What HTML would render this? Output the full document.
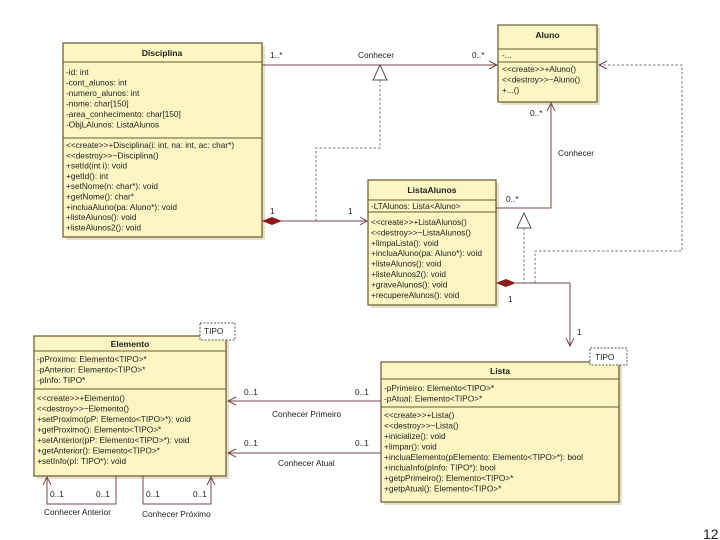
<!DOCTYPE html>
<html><head><meta charset="utf-8"><style>
html,body{margin:0;padding:0;background:#fff;}
svg{display:block;}
text{font-family:"Liberation Sans",sans-serif;font-size:8.3px;fill:#222;}
.t{font-weight:bold;font-size:8.6px;}
.b{fill:#fdf6c3;stroke:#6b5533;stroke-width:1.2;}
.d{stroke:#6b5533;stroke-width:1;}
.l{stroke:#7a4848;stroke-width:1;fill:none;}
.dash{stroke:#777;stroke-width:1;fill:none;stroke-dasharray:2.5,2;}
</style></head><body>
<svg width="720" height="540" viewBox="0 0 720 540" xmlns="http://www.w3.org/2000/svg">
<!-- shadows -->
<rect x="66" y="46" width="199" height="194" fill="#e6e0c8"/>
<rect x="501" y="28" width="99" height="77" fill="#e6e0c8"/>
<rect x="371" y="183" width="128" height="125" fill="#e6e0c8"/>
<rect x="37" y="339" width="192" height="140" fill="#e6e0c8"/>
<rect x="384" y="365" width="238" height="140" fill="#e6e0c8"/>

<!-- Disciplina -->
<rect class="b" x="63" y="43" width="199" height="194"/>
<line class="d" x1="63" y1="62" x2="262" y2="62"/>
<line class="d" x1="63" y1="138" x2="262" y2="138"/>
<text class="t" x="162" y="56" text-anchor="middle">Disciplina</text>
<text x="66" y="75">-id: int</text>
<text x="66" y="85.5">-cont_alunos: int</text>
<text x="66" y="96">-numero_alunos: int</text>
<text x="66" y="106.5">-nome: char[150]</text>
<text x="66" y="117">-area_conhecimento: char[150]</text>
<text x="66" y="127.5">-ObjLAlunos: ListaAlunos</text>
<text x="66" y="148">&lt;&lt;create&gt;&gt;+Disciplina(i: int, na: int, ac: char*)</text>
<text x="66" y="158.3">&lt;&lt;destroy&gt;&gt;~Disciplina()</text>
<text x="66" y="168.6">+setId(int i): void</text>
<text x="66" y="178.9">+getId(): int</text>
<text x="66" y="189.2">+setNome(n: char*): void</text>
<text x="66" y="199.5">+getNome(): char*</text>
<text x="66" y="209.8">+incluaAluno(pa: Aluno*): void</text>
<text x="66" y="220.1">+listeAlunos(): void</text>
<text x="66" y="230.4">+listeAlunos2(): void</text>

<!-- Aluno -->
<rect class="b" x="498" y="25" width="99" height="77"/>
<line class="d" x1="498" y1="49" x2="597" y2="49"/>
<line class="d" x1="498" y1="62" x2="597" y2="62"/>
<text class="t" x="547.5" y="38" text-anchor="middle">Aluno</text>
<text x="502" y="58">-...</text>
<text x="502" y="72">&lt;&lt;create&gt;&gt;+Aluno()</text>
<text x="502" y="82.5">&lt;&lt;destroy&gt;&gt;~Aluno()</text>
<text x="502" y="93">+...()</text>

<!-- ListaAlunos -->
<rect class="b" x="368" y="180" width="128" height="125"/>
<line class="d" x1="368" y1="200" x2="496" y2="200"/>
<line class="d" x1="368" y1="212" x2="496" y2="212"/>
<text class="t" x="432" y="193" text-anchor="middle">ListaAlunos</text>
<text x="371" y="209">-LTAlunos: Lista&lt;Aluno&gt;</text>
<text x="371" y="225">&lt;&lt;create&gt;&gt;+ListaAlunos()</text>
<text x="371" y="235.4">&lt;&lt;destroy&gt;&gt;~ListaAlunos()</text>
<text x="371" y="245.8">+limpaLista(): void</text>
<text x="371" y="256.2">+incluaAluno(pa: Aluno*): void</text>
<text x="371" y="266.6">+listeAlunos(): void</text>
<text x="371" y="277">+listeAlunos2(): void</text>
<text x="371" y="287.4">+graveAlunos(): void</text>
<text x="371" y="297.8">+recupereAlunos(): void</text>

<!-- Elemento -->
<rect class="b" x="34" y="336" width="192" height="140"/>
<line class="d" x1="34" y1="351" x2="226" y2="351"/>
<line class="d" x1="34" y1="389" x2="226" y2="389"/>
<text class="t" x="130" y="347" text-anchor="middle">Elemento</text>
<text x="37" y="362">-pProximo: Elemento&lt;TIPO&gt;*</text>
<text x="37" y="372.5">-pAnterior: Elemento&lt;TIPO&gt;*</text>
<text x="37" y="383">-pInfo: TIPO*</text>
<text x="37" y="401">&lt;&lt;create&gt;&gt;+Elemento()</text>
<text x="37" y="411.5">&lt;&lt;destroy&gt;&gt;~Elemento()</text>
<text x="37" y="422">+setProximo(pP: Elemento&lt;TIPO&gt;*): void</text>
<text x="37" y="432.5">+getProximo(): Elemento&lt;TIPO&gt;*</text>
<text x="37" y="443">+setAnterior(pP: Elemento&lt;TIPO&gt;*): void</text>
<text x="37" y="453.5">+getAnterior(): Elemento&lt;TIPO&gt;*</text>
<text x="37" y="464">+setInfo(pI: TIPO*): void</text>
<rect x="200" y="323" width="35" height="17" fill="#fff" stroke="#555" stroke-dasharray="2,1.5"/>
<text x="204" y="334">TIPO</text>

<!-- Lista -->
<rect class="b" x="381" y="362" width="238" height="140"/>
<line class="d" x1="381" y1="379" x2="619" y2="379"/>
<line class="d" x1="381" y1="407" x2="619" y2="407"/>
<text class="t" x="500" y="374" text-anchor="middle">Lista</text>
<text x="384" y="391">-pPrimeiro: Elemento&lt;TIPO&gt;*</text>
<text x="384" y="401.5">-pAtual: Elemento&lt;TIPO&gt;*</text>
<text x="384" y="418">&lt;&lt;create&gt;&gt;+Lista()</text>
<text x="384" y="428.5">&lt;&lt;destroy&gt;&gt;~Lista()</text>
<text x="384" y="439">+inicialize(): void</text>
<text x="384" y="449.5">+limpar(): void</text>
<text x="384" y="460">+incluaElemento(pElemento: Elemento&lt;TIPO&gt;*): bool</text>
<text x="384" y="470.5">+incluaInfo(pInfo: TIPO*): bool</text>
<text x="384" y="481">+getpPrimeiro(): Elemento&lt;TIPO&gt;*</text>
<text x="384" y="491.5">+getpAtual(): Elemento&lt;TIPO&gt;*</text>
<rect x="590" y="348" width="37" height="17" fill="#fff" stroke="#555" stroke-dasharray="2,1.5"/>
<text x="595" y="360">TIPO</text>

<!-- Disciplina -> Aluno -->
<line class="l" x1="262" y1="65" x2="497" y2="65"/>
<polyline class="l" points="489,61 497,65 489,69"/>
<text x="270" y="58">1..*</text>
<text x="358" y="58">Conhecer</text>
<text x="472" y="58">0..*</text>
<polygon points="380,65 373,80 387,80" fill="#fff" stroke="#555"/>
<polyline class="dash" points="380,80 380,148 316,148 316,221"/>

<!-- composition Disciplina-ListaAlunos -->
<line class="l" x1="262" y1="221" x2="367" y2="221"/>
<polyline class="l" points="360,217 367,221 360,225"/>
<polygon points="262,221 272,217 282,221 272,225" fill="#8b1a1a"/>
<text x="270" y="214">1</text>
<text x="348" y="214">1</text>

<!-- ListaAlunos -> Aluno -->
<polyline class="l" points="496,208 551,208 551,103"/>
<polyline class="l" points="547,111 551,103 555,111"/>
<text x="506" y="202">0..*</text>
<text x="530" y="116">0..*</text>
<text x="558" y="156">Conhecer</text>
<polygon points="524,213 517,228 531,228" fill="#fff" stroke="#555"/>
<line class="dash" x1="524" y1="228" x2="524" y2="283"/>
<polyline class="dash" points="599,65 682,65 682,251 535,251 535,283"/>
<polyline class="l" points="607,61 599,65 607,69"/>

<!-- composition ListaAlunos - Lista -->
<polygon points="496,283 506,279 516,283 506,287" fill="#8b1a1a"/>
<polyline class="l" points="516,283 570,283 570,346"/>
<polyline class="l" points="566,338 570,346 574,338"/>
<text x="508" y="302">1</text>
<text x="577" y="335">1</text>

<!-- Lista -> Elemento -->
<line class="l" x1="228" y1="401" x2="381" y2="401"/>
<polyline class="l" points="236,397 228,401 236,405"/>
<text x="244" y="395">0..1</text>
<text x="355" y="395">0..1</text>
<text x="272" y="417">Conhecer Primeiro</text>
<line class="l" x1="228" y1="453" x2="381" y2="453"/>
<polyline class="l" points="236,449 228,453 236,457"/>
<text x="244" y="446">0..1</text>
<text x="355" y="446">0..1</text>
<text x="278" y="466">Conhecer Atual</text>

<!-- self loops -->
<polyline class="l" points="47,477 47,504 116,504 116,476"/>
<polyline class="l" points="43,485 47,477 51,485"/>
<text x="50" y="497">0..1</text>
<text x="96" y="497">0..1</text>
<text x="44" y="515">Conhecer Anterior</text>
<polyline class="l" points="143,476 143,504 211,504 211,477"/>
<polyline class="l" points="207,485 211,477 215,485"/>
<text x="146" y="497">0..1</text>
<text x="193" y="497">0..1</text>
<text x="142" y="517">Conhecer Próximo</text>

<text x="703" y="539" style="font-size:14px;">12</text>
</svg>
</body></html>
